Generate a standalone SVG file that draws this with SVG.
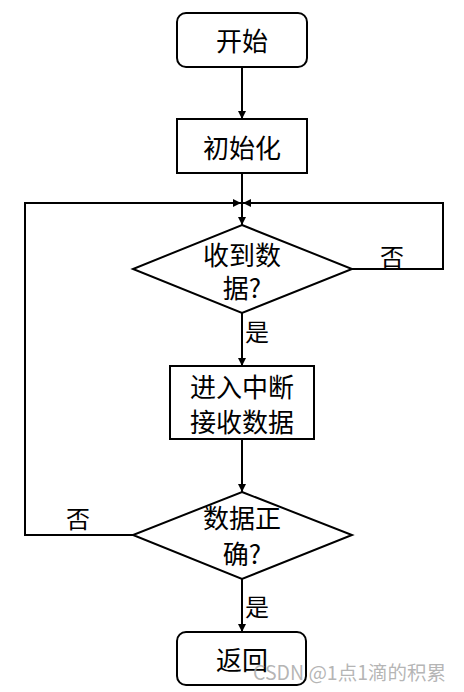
<svg xmlns="http://www.w3.org/2000/svg" width="464" height="692" viewBox="0 0 464 692">
<defs>
<marker id="arr" viewBox="0 0 10 10" refX="10" refY="5" markerWidth="8" markerHeight="8" markerUnits="userSpaceOnUse" orient="auto"><path d="M0,0 L10,5 L0,10 z" fill="#000"/></marker>
<style>
.shape{fill:#fff;stroke:#000;stroke-width:2}
.t{font-family:"Noto Sans CJK SC","Noto Sans",sans-serif;font-size:26px;fill:#000;text-anchor:middle}
.lbl{font-family:"Noto Sans CJK SC","Noto Sans",sans-serif;font-size:24px;fill:#000}
.c{fill:none;stroke:#000;stroke-width:2;marker-end:url(#arr)}
</style>
</defs>
<rect width="464" height="692" fill="#fff"/>
<g id="connectors">
<path class="c" d="M242,67 V119"/>
<path class="c" d="M242,173 V225"/>
<path class="c" d="M133,535 H25 V203 H241"/>
<path class="c" d="M352,269 H443 V203 H243"/>
<path class="c" d="M242,313 V366"/>
<path class="c" d="M242,439 V492"/>
<path class="c" d="M242,579 V632"/>
</g>
<g id="start"><rect class="shape" x="177" y="13" width="130" height="54" rx="9"/><text class="t" x="242" y="51">开始</text></g>
<g id="init"><rect class="shape" x="177" y="119" width="130" height="54"/><text class="t" x="242" y="158">初始化</text></g>
<g id="recv"><polygon class="shape" points="242,225 352,269 242,313 133,269"/><text class="t" x="242" y="265">收到数</text><text class="t" x="242" y="298">据?</text></g>
<g id="irq"><rect class="shape" x="170" y="366" width="144" height="73"/><text class="t" x="242" y="397">进入中断</text><text class="t" x="242" y="432">接收数据</text></g>
<g id="check"><polygon class="shape" points="242,492 352,535 242,579 133,535"/><text class="t" x="242" y="528">数据正</text><text class="t" x="242" y="564">确?</text></g>
<g id="ret"><rect class="shape" x="177" y="632" width="129" height="53" rx="9"/><text class="t" x="242" y="670">返回</text></g>
<g id="labels">
<text class="lbl" x="380" y="266">否</text>
<text class="lbl" x="245" y="341">是</text>
<text class="lbl" x="66" y="528">否</text>
<text class="lbl" x="245" y="616">是</text>
</g>
<text x="253" y="680" font-family="'Noto Sans CJK SC','Noto Sans',sans-serif" font-size="19.5" fill="#a8a8a8" fill-opacity="0.85">CSDN @1点1滴的积累</text>
</svg>
